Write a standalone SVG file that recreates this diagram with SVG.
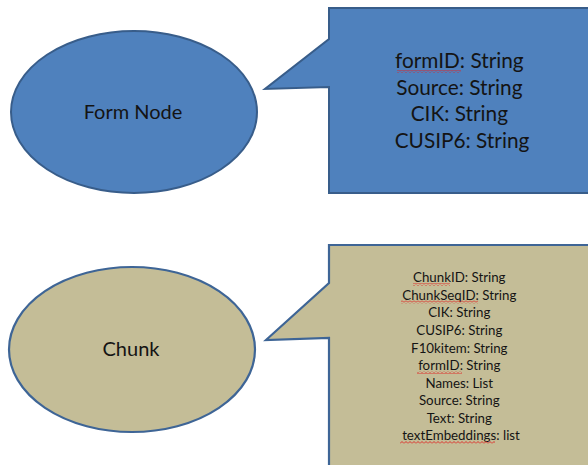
<svg xmlns="http://www.w3.org/2000/svg" width="588" height="465" viewBox="0 0 588 465">
  <defs>
    <style>
      .blue { fill: #4F81BD; stroke: #385D8A; stroke-width: 2; }
      .tan { fill: #C4BD97; stroke: #3E6596; stroke-width: 2.2; }
      .lbl { font-family: Lato, "Open Sans", "Liberation Sans", sans-serif; fill: #141414; text-anchor: middle; }
      .big { font-size: 20px; }
      .attr { font-size: 20.8px; }
      .small { font-size: 13.3px; }
      .sq { fill: url(#squiggle); }
    </style>
    <!-- red wavy spell-check underline -->
    <pattern id="squiggle" width="4" height="3" patternUnits="userSpaceOnUse">
      <polyline points="0,2.5 2,0.5 4,2.5" fill="none" stroke="#E02020" stroke-width="0.9"/>
    </pattern>
  </defs>

  <rect width="588" height="465" fill="#FFFFFF"/>

  <!-- Form Node -->
  <g id="form-node">
    <ellipse class="blue" cx="134" cy="112" rx="123" ry="81"/>
    <text class="lbl big" x="133" y="119">Form Node</text>
  </g>

  <!-- Form Node attribute callout -->
  <g id="form-callout">
    <path class="blue" d="M329,8 H600 V193 H329 V87 L265,89 L329,39 Z"/>
    <text class="lbl attr">
      <tspan x="462" y="68">formID: String</tspan>
      <tspan x="462" y="94.5">Source: String</tspan>
      <tspan x="462" y="121">CIK: String</tspan>
      <tspan x="462" y="147.5">CUSIP6: String</tspan>
    </text>
    <rect class="sq" x="397" y="70" width="64" height="3"/>
  </g>

  <!-- Chunk -->
  <g id="chunk-node">
    <ellipse class="tan" cx="132" cy="349.5" rx="123" ry="82.5"/>
    <text class="lbl big" x="131" y="356">Chunk</text>
  </g>

  <!-- Chunk attribute callout -->
  <g id="chunk-callout">
    <path class="tan" d="M329,245 H600 V470 H329 V338 L266,340 L329,283 Z"/>
    <text class="lbl small">
      <tspan x="461" y="282">ChunkID: String</tspan>
      <tspan x="461" y="299.5">ChunkSeqID: String</tspan>
      <tspan x="461" y="317">CIK: String</tspan>
      <tspan x="461" y="335">CUSIP6: String</tspan>
      <tspan x="461" y="352.5">F10kitem: String</tspan>
      <tspan x="461" y="370">formID: String</tspan>
      <tspan x="461" y="387.5">Names: List</tspan>
      <tspan x="461" y="405">Source: String</tspan>
      <tspan x="461" y="422.5">Text: String</tspan>
      <tspan x="461" y="440">textEmbeddings: list</tspan>
    </text>
    <rect class="sq" x="413" y="283" width="37" height="3"/>
    <rect class="sq" x="401" y="300.5" width="77" height="3"/>
    <rect class="sq" x="417" y="371" width="45" height="3"/>
    <rect class="sq" x="400" y="441" width="95" height="3"/>
  </g>
</svg>
